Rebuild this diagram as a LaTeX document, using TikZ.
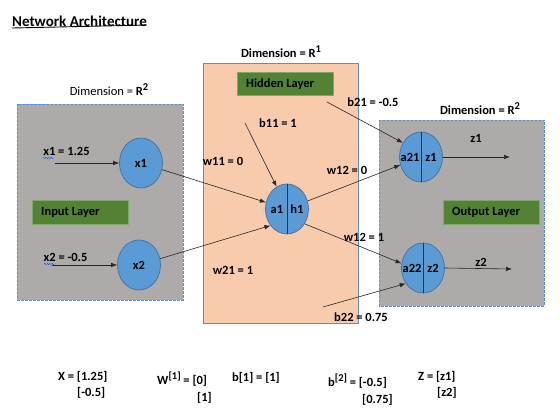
\documentclass[tikz,border=0pt]{standalone}
\usepackage{fontspec}
\setmainfont{Carlito}
\usetikzlibrary{shapes.geometric,arrows.meta,decorations.pathmorphing}
\definecolor{boxgray}{HTML}{AEAAAA}
\definecolor{peach}{HTML}{F8CBAD}
\definecolor{nodeblue}{HTML}{5B9BD5}
\definecolor{nodeedge}{HTML}{41719C}
\definecolor{dashblue}{HTML}{5B8FC7}
\definecolor{layergreen}{HTML}{548235}
\definecolor{layeredge}{HTML}{7FA86A}
\definecolor{lineclr}{HTML}{262626}
\newcommand{\supr}[1]{\raisebox{5pt}{\fontsize{10.5}{11}\selectfont #1}}
\tikzset{
  lbl/.style={font=\fontsize{12.5}{14}\selectfont\bfseries, inner sep=0pt},
  neuron/.style={ellipse, draw=nodeedge, line width=0.7pt, fill=nodeblue, minimum width=43pt, minimum height=50pt, inner sep=0pt},
  layerbox/.style={draw=layeredge, line width=0.6pt, fill=layergreen},
  layertxt/.style={font=\fontsize{12.5}{14}\selectfont\bfseries, inner sep=0pt, anchor=west},
  conn/.style={draw=lineclr, line width=0.6pt, -{Latex[length=6pt,width=4.5pt]}},
  divider/.style={draw=black!80, line width=0.7pt},
}
\begin{document}
\begin{tikzpicture}[x=1pt,y=-1pt]
\useasboundingbox (0,0) rectangle (560,414);
% title
\node[font=\fontsize{15}{17}\selectfont\bfseries, inner sep=0pt, anchor=west] (title) at (12,21) {Network Architecture};
\draw[line width=0.9pt] (title.south west) ++(0,1.5) -- ([yshift=1.5pt]title.south east);

% boxes
\fill[boxgray] (17,104) rectangle (183,300);
\draw[dashblue, dashed, line width=0.8pt, dash pattern=on 2.5pt off 1.5pt] (17,104) rectangle (183,300);
\filldraw[fill=peach, draw=dashblue, line width=1pt] (203,64) rectangle (358,324);
\fill[boxgray] (379,120) rectangle (544,306);
\draw[dashblue, dashed, line width=0.8pt, dash pattern=on 2.5pt off 1.5pt] (379,120) rectangle (544,306);

% dimension labels
\node[font=\fontsize{12.5}{14}\selectfont, inner sep=0pt] (dimin) at (109,90) {Dimension = \textbf{R}\textbf{\supr{2}}};
\node[lbl] (dimhid) at (281,52) {Dimension = R\supr{1}};
\node[lbl] (dimout) at (480,109) {Dimension = R\supr{2}};

% layer boxes
\filldraw[layerbox] (32,200) rectangle (128,224);
\node[layertxt] (inlayer) at (41,212) {Input Layer};
\filldraw[layerbox] (237,72) rectangle (333,95);
\node[layertxt] (hidlayer) at (246,84) {Hidden Layer};
\filldraw[layerbox] (443,200) rectangle (539,224);
\node[layertxt] (outlayer) at (452,212) {Output Layer};

% neurons
\node[neuron] (x1) at (141,163) {};
\node[lbl] at (x1) {x1};
\node[neuron] (x2) at (139,265) {};
\node[lbl] at (x2) {x2};
\node[neuron] (h1) at (287,209) {};
\draw[divider] (h1.north) -- (h1.south);
\node[lbl] (a1t) at ([xshift=-10pt]h1.center) {a1};
\node[lbl] (h1t) at ([xshift=10pt]h1.center) {h1};
\node[neuron] (z1) at (421,157) {};
\draw[divider] (z1.north) -- (z1.south);
\node[lbl] (a21t) at ([xshift=-11pt]z1.center) {a21};
\node[lbl] (z1t) at ([xshift=10pt]z1.center) {z1};
\node[neuron] (z2) at (423,268) {};
\draw[divider] (z2.north) -- (z2.south);
\node[lbl] (a22t) at ([xshift=-11pt]z2.center) {a22};
\node[lbl] (z2t) at ([xshift=10pt]z2.center) {z2};

% input arrows
\coordinate (in1) at (55,163);
\coordinate (in2) at (52,265);
\draw[conn] (in1) -- (x1.west);
\draw[conn] (in2) -- (x2.west);
\node[lbl] (lx1) at (66.5,151) {x1 = 1.25};
\node[lbl] (lx2) at (65.5,257) {x2 = -0.5};
\draw[blue!70!cyan, line width=0.4pt, decorate, decoration={snake, amplitude=0.6pt, segment length=2.5pt}] (43,158) -- (54,158);
\draw[blue!70!cyan, line width=0.4pt, decorate, decoration={snake, amplitude=0.6pt, segment length=2.5pt}] (44,264) -- (55,264);

% hidden connections
\coordinate (b11s) at (245,123);
\draw[conn] (x1) -- (h1);
\draw[conn] (x2) -- (h1.225);
\draw[conn] (b11s) -- (h1.115);
\node[lbl] (lb11) at (278,123) {b11 = 1};
\node[lbl] (lw11) at (223,161) {w11 = 0};
\node[lbl] (lw21) at (233,270) {w21 = 1};

% output connections
\coordinate (b21s) at (327,102);
\coordinate (b22s) at (323,307);
\draw[conn] (h1) -- (z1);
\draw[conn] (h1.-40) -- (z2.168);
\draw[conn] (b21s) -- (z1.142);
\draw[conn] (b22s) -- (z2.222);
\node[lbl] (lw120) at (347,170) {w12 = 0};
\node[lbl] (lw121) at (364,237) {w12 = 1};
\node[lbl] (lb21) at (373,102) {b21 = -0.5};
\node[lbl] (lb22) at (361,317) {b22 = 0.75};

% outputs
\coordinate (o1) at (510,157);
\coordinate (o2) at (512,269);
\draw[conn] (z1.east) -- (o1);
\draw[conn] (z2.east) -- (o2);
\node[lbl] (lz1) at (476,138) {z1};
\node[lbl] (lz2) at (481,262) {z2};

% bottom equations
\node[lbl, anchor=west] (eqX) at (58,377) {X = [1.25]};
\node[lbl, anchor=west] (eqX2) at (77,393) {[-0.5]};
\node[lbl, anchor=west] (eqW) at (157,379) {W\supr{[1]} = [0]};
\node[lbl, anchor=west] (eqW2) at (197,398) {[1]};
\node[lbl, anchor=west] (eqb1) at (232,378) {b[1] = [1]};
\node[lbl, anchor=west] (eqb2) at (328,381) {b\supr{[2]} = [-0.5]};
\node[lbl, anchor=west] (eqb22) at (362,400) {[0.75]};
\node[lbl, anchor=west] (eqZ) at (418,377) {Z = [z1]};
\node[lbl, anchor=west] (eqZ2) at (437,393) {[z2]};
\end{tikzpicture}
\end{document}
